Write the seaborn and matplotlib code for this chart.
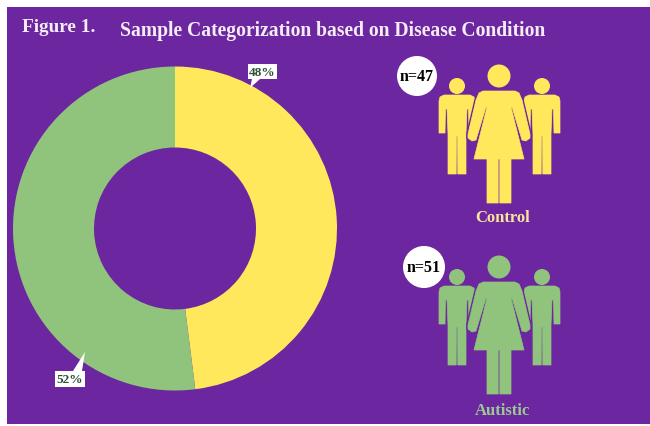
import matplotlib
matplotlib.use("Agg")
import matplotlib.pyplot as plt
from matplotlib.patches import Circle, Polygon, Rectangle
import seaborn as sns

# Sample counts and shares per disease condition
groups = ["Control", "Autistic"]
counts = [47, 51]
shares = [48, 52]

PURPLE = "#6B26A0"
palette = sns.color_palette(["#FFE85C", "#90C47C"])
caption_colors = ["#F8E49C", "#9CC894"]

sns.set_theme(style="white")
plt.rcParams["font.family"] = ["Liberation Serif", "DejaVu Serif"]
plt.rcParams["font.weight"] = "bold"

W, H = 650, 427
fig = plt.figure(figsize=(W / 100, H / 100), dpi=100, facecolor="white")
fig.add_artist(Rectangle((7 / W, 1 - 425 / H), 643 / W, 417 / H, transform=fig.transFigure,
                         facecolor=PURPLE, edgecolor="none", zorder=-5))

# Donut chart
cx, cy, radius = 175, 229.5, 162
pie_ax = fig.add_axes([(cx - radius) / W, 1 - (cy + radius) / H, 2 * radius / W, 2 * radius / H])
pie_ax.pie(shares, colors=palette, startangle=90, counterclock=False, radius=1,
           wedgeprops={"width": 0.5, "linewidth": 0})
pie_ax.set_xlim(-1, 1)
pie_ax.set_ylim(-1, 1)
pie_ax.patch.set_visible(False)

# Overlay in pixel units for text and the pictograms
ax = fig.add_axes([0, 0, 1, 1])
ax.set_xlim(0, W)
ax.set_ylim(H, 0)
ax.axis("off")

ax.text(22, 27, "Figure 1.", color="#F6ECF6", fontsize=13.9, ha="left", va="center")
ax.text(120, 31, "Sample Categorization based on Disease Condition", color="#F6ECF6",
        fontsize=14.1, ha="left", va="center")


def callout(text, box, tip):
    x0, y0, x1, y1 = box
    base = (x0 + 4, x0 + 12) if tip[1] > y1 else (x1 - 12, x1 - 3)
    edge = y1 if tip[1] > y1 else y0
    ax.add_patch(Polygon([(base[0], edge), (base[1], edge), tip], facecolor="white", edgecolor="none"))
    ax.add_patch(Rectangle((x0, y0), x1 - x0, y1 - y0, facecolor="white", edgecolor="none"))
    ax.text((x0 + x1) / 2, (y0 + y1) / 2, text, color="#2F4F36", fontsize=9.5,
            ha="center", va="center")


callout(f"{shares[0]}%", (248, 65, 277, 80), (250, 89))
callout(f"{shares[1]}%", (55, 372, 85, 388), (85, 353))

MAN = [(-13, 9), (-17, 11), (-18, 15), (-18, 47), (-12, 47), (-11.5, 23), (-10, 23), (-9, 48), (-9, 88),
       (-0.8, 88), (-0.6, 50), (0.6, 50), (0.8, 88), (9, 88), (9, 48), (10, 23), (11.5, 23),
       (12, 47), (18, 47), (18, 15), (17, 11), (13, 9)]
WOMAN = [(-16, 15), (-20, 17), (-23, 24), (-31, 58), (-31, 62), (-27, 65), (-23, 64), (-13, 31),
         (-12, 31), (-25, 83), (-12, 83), (-12, 127), (-0.8, 127), (-0.8, 83), (0.8, 83),
         (0.8, 127), (12, 127), (12, 83), (25, 83), (12, 31), (13, 31), (23, 64), (27, 65),
         (31, 62), (31, 58), (23, 24), (20, 17), (16, 15)]


def person(shape, x, y, head_r, color, outline=0.0):
    pts = [(x + dx, y + dy) for dx, dy in shape]
    if outline:
        ax.add_patch(Polygon(pts, facecolor=PURPLE, edgecolor=PURPLE, linewidth=outline))
    ax.add_patch(Polygon(pts, facecolor=color, edgecolor=color, linewidth=0.5, joinstyle="round"))
    ax.add_patch(Circle((x, y), head_r, facecolor=color, edgecolor="none"))


def family(dy, color):
    person(MAN, 457, 87 + dy, 8, color)
    person(MAN, 542, 87 + dy, 8, color)
    person(WOMAN, 499, 77 + dy, 11.5, color, outline=2.5)


family(0, palette[0])
family(191, palette[1])

# Sample size badges and group captions
for name, n, col, (bx, by, br), ty in zip(groups, counts, caption_colors,
                                          [(417, 77, 20), (424, 268, 21)], [218, 411]):
    ax.add_patch(Circle((bx, by), br, facecolor="white", edgecolor="none", zorder=4))
    ax.text(bx, by, f"n={n}", color="black", fontsize=11.5, ha="center", va="center", zorder=5)
    ax.text(503, ty, name, color=col, fontsize=12, ha="center", va="center")

fig.savefig("out.png", dpi=100, facecolor="white")
